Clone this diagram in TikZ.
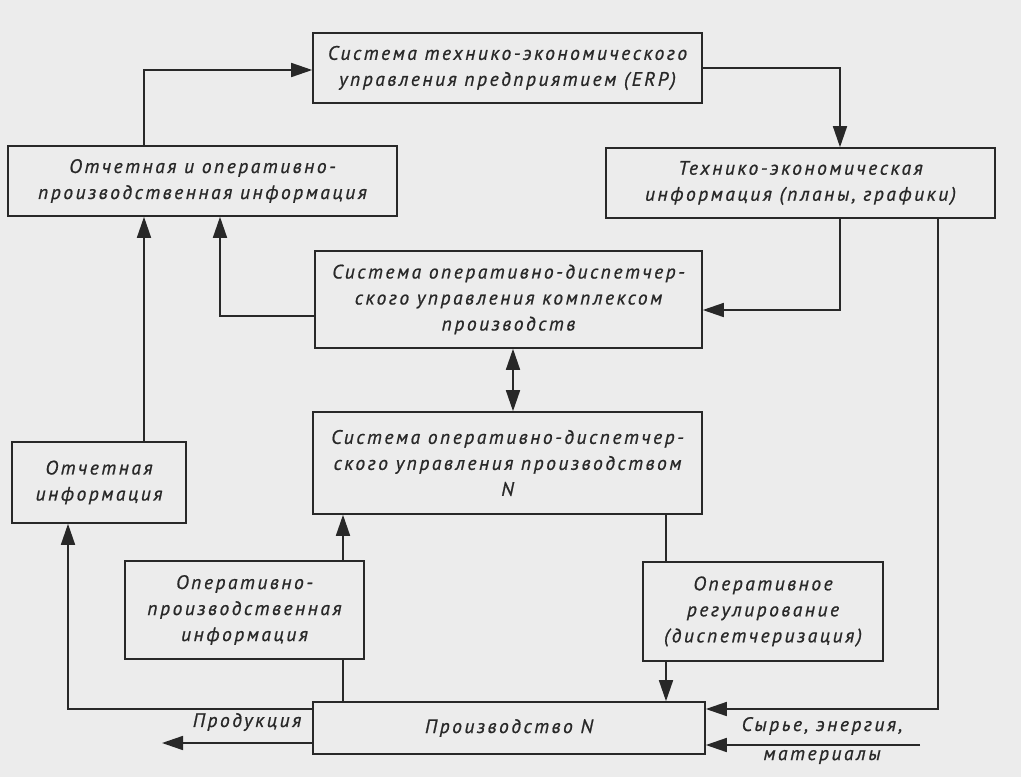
\documentclass[tikz,border=0pt]{standalone}
\usepackage{fontspec}
\newfontfamily\dfont{PT Sans}[LetterSpace=13,FakeBold=0.8]
\usetikzlibrary{arrows.meta,calc}
\definecolor{bg}{RGB}{236,236,236}
\definecolor{ink}{RGB}{40,40,40}
\begin{document}
\begin{tikzpicture}[x=1pt,y=-1pt,
  box/.style={draw=ink,line width=1.6pt,fill=bg,align=center,inner sep=2pt,
    font=\dfont\itshape\fontsize{19.5}{26}\selectfont,text=ink},
  lbl/.style={font=\dfont\itshape\fontsize{19.5}{26}\selectfont,text=ink,inner sep=0pt},
  con/.style={draw=ink,line width=1.6pt},
  arr/.style={con,-{Triangle[length=21pt,width=14pt]}},
  darr/.style={con,{Triangle[length=21pt,width=14pt]}-{Triangle[length=21pt,width=14pt]}}]
\fill[bg] (0,0) rectangle (1021,777);
\useasboundingbox (0,0) rectangle (1021,777);
\node[box,minimum width=389pt,minimum height=70pt] (erp) at (507.5,68) {Система технико-экономического\\управления предприятием (ERP)};
\node[box,minimum width=389pt,minimum height=70pt] (rep1) at (202.5,181) {Отчетная и оперативно-\\производственная информация};
\node[box,minimum width=389pt,minimum height=70pt] (tei) at (800.5,183) {Технико-экономическая\\информация (планы, графики)};
\node[box,minimum width=387pt,minimum height=97pt] (kompl) at (508.5,299.5) {Система оперативно-диспетчер-\\ского управления комплексом\\производств};
\node[box,minimum width=389pt,minimum height=102pt] (sysn) at (507.5,463) {Система оперативно-диспетчер-\\ского управления производством\\N};
\node[box,minimum width=174pt,minimum height=81pt] (rep2) at (99,482.5) {Отчетная\\информация};
\node[box,minimum width=239pt,minimum height=98pt] (opinfo) at (244.5,610) {Оперативно-\\производственная\\информация};
\node[box,minimum width=240pt,minimum height=99pt] (oreg) at (763,611.5) {Оперативное\\регулирование\\(диспетчеризация)};
\node[box,minimum width=392pt,minimum height=52pt] (proizv) at (509,728) {Производство N};
\node[lbl] (prod) at (247,722) {Продукция};
\node[lbl] (syr1) at (822,726) {Сырье, энергия,};
\node[lbl] (syr2) at (822,757) {материалы};
\coordinate (prodend) at (162,743);
\coordinate (syrstart) at (920,745);
% connectors
\coordinate (c1) at ($(rep1.north)+(-58.5,0)$);
\draw[arr] (c1) |- ($(erp.west)+(0,2)$);
\draw[arr] (erp.east) -| ($(tei.north)+(39.5,0)$);
\draw[arr] ($(tei.south)+(39.5,0)$) |- ($(kompl.east)+(0,10.5)$);
\draw[arr] ($(tei.south)+(137.5,0)$) |- ($(proizv.east)+(0,-19)$);
\draw[arr] ($(kompl.west)+(0,16.5)$) -| ($(rep1.south)+(17.5,0)$);
\coordinate (c2) at ($(rep2.north)+(45,0)$);
\draw[arr] (c2) -- (c2 |- rep1.south);
\draw[darr] ($(kompl.south)+(4.5,0)$) -- ($(sysn.north)+(5.5,0)$);
\coordinate (c3) at ($(oreg.north)+(-97,0)$);
\draw[con] (c3 |- sysn.south) -- (c3);
\draw[arr] ($(oreg.south)+(-97,0)$) -- ($(proizv.north)+(157,0)$);
\coordinate (c4) at ($(proizv.north)+(-166,0)$);
\draw[con] (c4) -- (c4 |- opinfo.south);
\draw[arr] (c4 |- opinfo.north) -- (c4 |- sysn.south);
\draw[arr] ($(proizv.west)+(0,-19)$) -| ($(rep2.south)+(-31,0)$);
\draw[arr] ($(proizv.west)+(0,15)$) -- (prodend);
\draw[arr] (syrstart) -- ($(proizv.east)+(0,17)$);
\end{tikzpicture}
\end{document}
